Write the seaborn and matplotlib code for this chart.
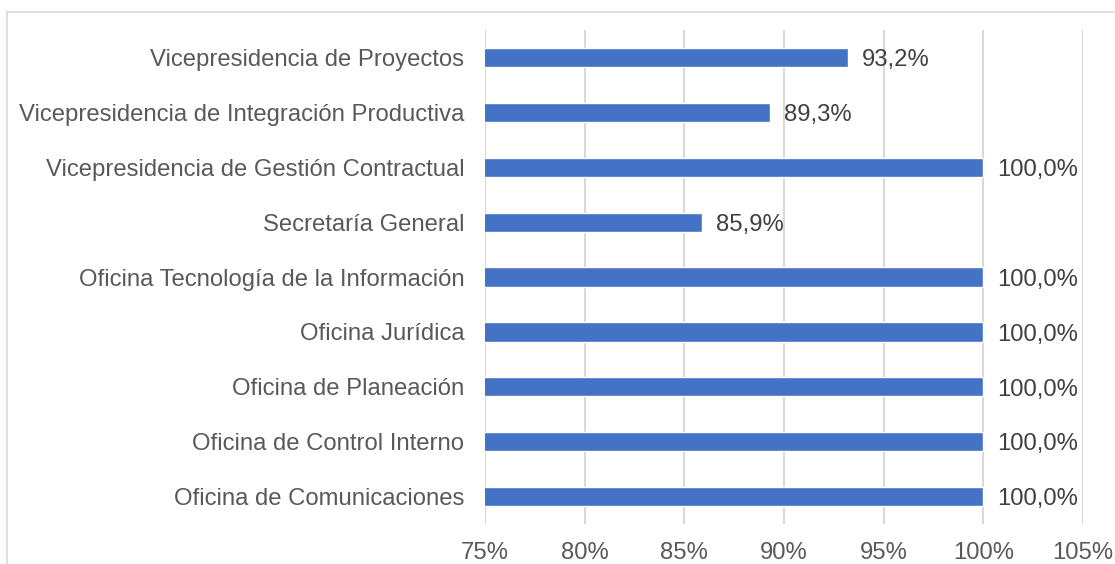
import matplotlib
matplotlib.use("Agg")
import matplotlib.pyplot as plt
import seaborn as sns
import pandas as pd
from matplotlib.lines import Line2D

categories = [
    "Vicepresidencia de Proyectos",
    "Vicepresidencia de Integración Productiva",
    "Vicepresidencia de Gestión Contractual",
    "Secretaría General",
    "Oficina Tecnología de la Información",
    "Oficina Jurídica",
    "Oficina de Planeación",
    "Oficina de Control Interno",
    "Oficina de Comunicaciones",
]
values = [93.2, 89.3, 100.0, 85.9, 100.0, 100.0, 100.0, 100.0, 100.0]
xticks = [75, 80, 85, 90, 95, 100, 105]

sns.set_theme(style="white")
plt.rcParams['font.family'] = ['Liberation Sans', 'DejaVu Sans']

df = pd.DataFrame({"cat": categories, "val": values})

fig = plt.figure(figsize=(11.15, 5.64), dpi=100)
ax = fig.add_axes([0.435, 0.0709, 0.9713 - 0.435, 0.9468 - 0.0709])

sns.barplot(data=df, x="val", y="cat", orient="h", color="#4472C4",
            width=0.35, saturation=1, ax=ax, zorder=3)

ax.set_xlim(75, 105)
ax.set_ylim(8.5, -0.5)
ax.set_xticks(xticks)
ax.set_xticklabels([f"{t}%" for t in xticks])
ax.xaxis.grid(True, color="#d9d9d9", linewidth=1.5, zorder=0)
ax.yaxis.grid(False)
for s in ax.spines.values():
    s.set_visible(False)
ax.set_xlabel("")
ax.set_ylabel("")
ax.tick_params(axis="x", length=0, pad=13, labelsize=17.2, labelcolor="#595959")
ax.tick_params(axis="y", length=0, pad=15, labelsize=17.2, labelcolor="#595959")

for i, v in enumerate(values):
    ax.annotate(f"{v:.1f}%".replace(".", ","), xy=(v, i), xytext=(10, -2),
                textcoords="offset points", va="center", ha="left",
                fontsize=17.2, color="#404040", zorder=4, annotation_clip=False)

# outer frame (partially visible)
fig.add_artist(Line2D([7/1115, 1.0], [1 - 12/564, 1 - 12/564],
                      transform=fig.transFigure, color="#d9d9d9", linewidth=1.2))
fig.add_artist(Line2D([7/1115, 7/1115], [0, 1 - 12/564],
                      transform=fig.transFigure, color="#d9d9d9", linewidth=1.2))

fig.savefig("out.png", dpi=100)
